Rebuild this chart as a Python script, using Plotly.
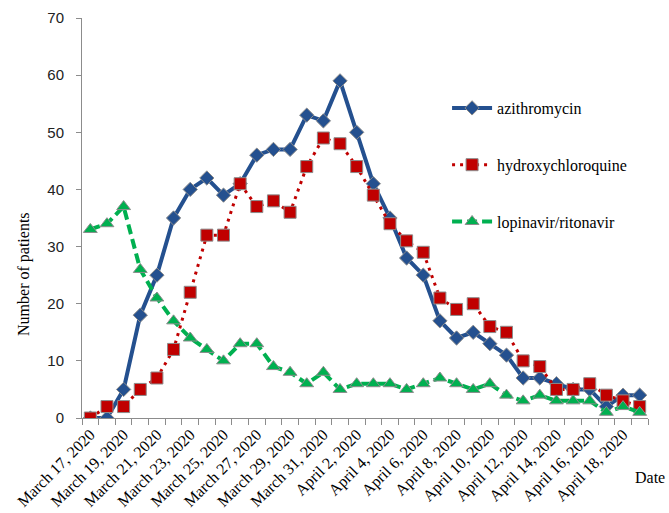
import plotly.graph_objects as go

dates = [
    "March 17, 2020", "March 18, 2020", "March 19, 2020", "March 20, 2020",
    "March 21, 2020", "March 22, 2020", "March 23, 2020", "March 24, 2020",
    "March 25, 2020", "March 26, 2020", "March 27, 2020", "March 28, 2020",
    "March 29, 2020", "March 30, 2020", "March 31, 2020", "April 1, 2020",
    "April 2, 2020", "April 3, 2020", "April 4, 2020", "April 5, 2020",
    "April 6, 2020", "April 7, 2020", "April 8, 2020", "April 9, 2020",
    "April 10, 2020", "April 11, 2020", "April 12, 2020", "April 13, 2020",
    "April 14, 2020", "April 15, 2020", "April 16, 2020", "April 17, 2020",
    "April 18, 2020", "April 19, 2020",
]

azithromycin = [0, 0, 5, 18, 25, 35, 40, 42, 39, 41, 46, 47, 47, 53, 52, 59, 50,
                41, 35, 28, 25, 17, 14, 15, 13, 11, 7, 7, 6, 5, 5, 2, 4, 4]
hydroxychloroquine = [0, 2, 2, 5, 7, 12, 22, 32, 32, 41, 37, 38, 36, 44, 49, 48, 44,
                      39, 34, 31, 29, 21, 19, 20, 16, 15, 10, 9, 5, 5, 6, 4, 3, 2]
lopinavir_ritonavir = [33, 34, 37, 26, 21, 17, 14, 12, 10, 13, 13, 9, 8, 6, 8, 5, 6,
                       6, 6, 5, 6, 7, 6, 5, 6, 4, 3, 4, 3, 3, 3, 1, 2, 1]

y_ticks = [0, 10, 20, 30, 40, 50, 60, 70]

idx = list(range(len(dates)))
serif = "'Times New Roman', 'Liberation Serif', 'DejaVu Serif', serif"
outline = dict(color="#8c8c8c", width=1)

fig = go.Figure()
fig.add_trace(go.Scatter(
    x=idx, y=azithromycin, name="azithromycin", mode="lines+markers",
    line=dict(color="#24508f", width=4),
    marker=dict(symbol="diamond", size=11, color="#24508f", line=outline),
    legendgroup="a"))
fig.add_trace(go.Scatter(
    x=idx, y=hydroxychloroquine, name="hydroxychloroquine", mode="lines+markers",
    line=dict(color="#c00000", width=3, dash="3px,5px"),
    marker=dict(symbol="square", size=12, color="#c00000", line=outline),
    legendgroup="h"))
fig.add_trace(go.Scatter(
    x=idx, y=lopinavir_ritonavir, name="lopinavir/ritonavir", mode="lines+markers",
    line=dict(color="#00b050", width=4, dash="10px,5px"),
    marker=dict(symbol="triangle-up", size=12, color="#00b050", line=outline),
    legendgroup="l"))

fig.update_layout(
    width=669, height=513,
    margin=dict(l=82, r=21, t=18, b=95, autoexpand=False),
    plot_bgcolor="white", paper_bgcolor="white",
    showlegend=True,
    legend=dict(x=0.645, y=0.8175, xanchor="left", yanchor="top",
                font=dict(family=serif, size=16, color="black"),
                itemwidth=40,
                tracegroupgap=33, bgcolor="rgba(0,0,0,0)"),
    annotations=[
        dict(text="Number of patients", x=-0.122, y=0.36, xref="paper", yref="paper",
             textangle=-90, showarrow=False,
             font=dict(family=serif, size=16, color="black")),
        dict(text="Date", x=1.0035, y=-0.15, xref="paper", yref="paper",
             xanchor="center", yanchor="middle",
             showarrow=False, font=dict(family=serif, size=16, color="black")),
    ],
)
fig.update_xaxes(
    range=[-0.5, len(dates) - 0.5], automargin=False,
    tickvals=idx[::2], ticktext=dates[::2], tickangle=-45,
    ticks="", showgrid=False, zeroline=False,
    showline=True, linecolor="#8c8c8c", linewidth=1,
    tickfont=dict(family=serif, size=16, color="black"),
    minor=dict(tick0=-0.5, dtick=1, ticks="outside", ticklen=6,
               tickcolor="#8c8c8c", showgrid=False),
)
fig.update_yaxes(
    range=[0, 70], tickvals=y_ticks, showgrid=False, zeroline=False,
    automargin=False,
    showline=True, linecolor="#8c8c8c", linewidth=1,
    ticks="outside", ticklen=5, tickcolor="#8c8c8c",
    ticklabelstandoff=9,
    tickfont=dict(family="Liberation Sans", size=15, color="#222"),
)

fig.write_html(
    "out.html",
    config={"displayModeBar": False},
    post_script="document.body.style.margin='0';document.body.style.overflow='hidden';",
)
